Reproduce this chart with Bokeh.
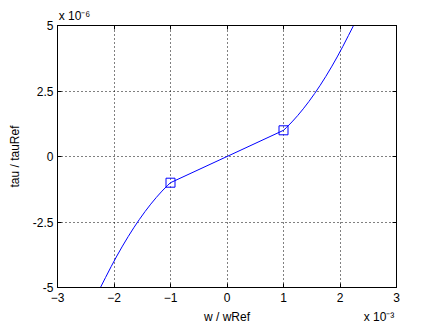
from bokeh.plotting import figure
from bokeh.models import LinearAxis, FixedTicker, Range1d
from bokeh.embed import file_html
from bokeh.resources import INLINE

# data (w in units of 1e-3, tau in units of 1e-6)
w = [-2.24, -2.15, -2.05, -1.95, -1.85, -1.75, -1.65, -1.55, -1.45, -1.35, -1.25, -1.15, -1.05, -1.0,
     0.0, 1.0, 1.05, 1.15, 1.25, 1.35, 1.45, 1.55, 1.65, 1.75, 1.85, 1.95, 2.05, 2.15, 2.24]
tau = [-5.0, -4.62, -4.2, -3.8, -3.42, -3.06, -2.72, -2.4, -2.1, -1.82, -1.56, -1.32, -1.1, -1.0,
       0.0, 1.0, 1.1, 1.32, 1.56, 1.82, 2.1, 2.4, 2.72, 3.06, 3.42, 3.8, 4.2, 4.62, 5.0]
marker_w = [-1.0, 1.0]
marker_tau = [-1.0, 1.0]
x_ticks = [-3, -2, -1, 0, 1, 2, 3]
y_ticks = [-5, -2.5, 0, 2.5, 5]
y_tick_labels = {-5: "-5", -2.5: "-2.5", 0: "0", 2.5: "2.5", 5: "5"}
x_label = "w / wRef"
y_label = "tau / tauRef"
x_exponent = "x 10\u207b\u00b3"
y_exponent = "x 10\u207b\u2076"

FONT = "Liberation Sans"

p = figure(width=438, height=329, output_backend="svg", toolbar_location=None,
           x_range=Range1d(-3, 3), y_range=Range1d(-5, 5),
           x_axis_location=None, y_axis_location=None,
           min_border_left=57, min_border_right=42, min_border_top=25, min_border_bottom=42)
p.background_fill_color = "white"
p.border_fill_color = "white"
p.outline_line_color = "black"
p.outline_line_width = 1
p.outline_line_alpha = 1

def style_axis(ax):
    ax.axis_line_color = "black"
    ax.major_tick_line_color = "black"
    ax.major_tick_in = 4
    ax.major_tick_out = 0
    ax.minor_tick_line_color = None
    ax.major_label_text_font = FONT
    ax.major_label_text_font_size = "12px"
    ax.major_label_text_color = "black"
    ax.axis_label_text_font = FONT
    ax.axis_label_text_font_size = "12px"
    ax.axis_label_text_font_style = "normal"
    ax.axis_label_text_color = "black"

# bottom: tick labels
xb = LinearAxis(ticker=FixedTicker(ticks=x_ticks))
style_axis(xb)
xb.major_label_standoff = 5
p.add_layout(xb, "below")

# bottom second row: axis title and exponent on one line
xb2 = LinearAxis(ticker=FixedTicker(ticks=[0, 2.69]))
style_axis(xb2)
xb2.axis_line_color = None
xb2.major_tick_line_color = None
xb2.major_label_standoff = 5
xb2.major_label_overrides = {0: x_label, 2.69: x_exponent}
p.add_layout(xb2, "below")

yl = LinearAxis(ticker=FixedTicker(ticks=y_ticks), axis_label=y_label)
style_axis(yl)
yl.major_label_overrides = y_tick_labels
yl.major_label_standoff = 4
yl.axis_label_standoff = 8
p.add_layout(yl, "left")

# top: ticks only
xt = LinearAxis(ticker=FixedTicker(ticks=x_ticks))
style_axis(xt)
xt.major_label_text_color = None
xt.major_label_text_font_size = "1px"
xt.major_label_standoff = 0
p.add_layout(xt, "above")

# top second row: the y exponent
xt2 = LinearAxis(ticker=FixedTicker(ticks=[-2.7]))
style_axis(xt2)
xt2.axis_line_color = None
xt2.major_tick_line_color = None
xt2.major_label_standoff = 3
xt2.major_label_overrides = {-2.7: y_exponent}
p.add_layout(xt2, "above")

yr = LinearAxis(ticker=FixedTicker(ticks=y_ticks))
style_axis(yr)
yr.major_label_text_color = None
yr.major_label_text_font_size = "1px"
yr.major_label_standoff = 0
p.add_layout(yr, "right")

p.xgrid.ticker = FixedTicker(ticks=x_ticks)
p.ygrid.ticker = FixedTicker(ticks=y_ticks)
for g in (p.xgrid, p.ygrid):
    g.grid_line_color = "black"
    g.grid_line_dash = "1 3"
    g.grid_line_width = 1

p.line(w, tau, line_color="#0000ff", line_width=1)
p.scatter(marker_w, marker_tau, marker="square", size=9, fill_color=None,
          line_color="#0000ff", line_width=1)

open("out.html", "w").write(file_html(p, INLINE))
